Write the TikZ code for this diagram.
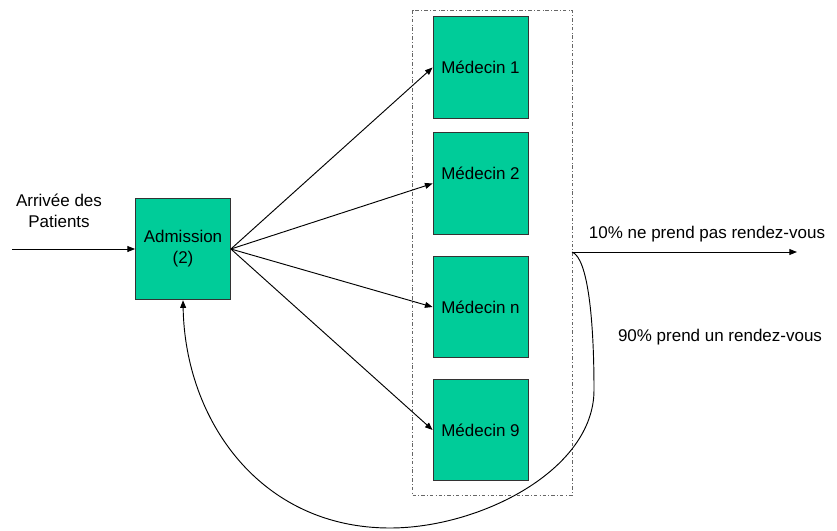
\documentclass[tikz,border=0pt]{standalone}
\usepackage{fontspec}
\setmainfont{Liberation Sans}
\usetikzlibrary{positioning,arrows.meta}
\definecolor{vert}{RGB}{0,204,153}

\begin{document}
\begin{tikzpicture}[
      x=0.03cm, y=-0.03cm,
      font=\fontsize{14.5}{18}\selectfont,
      boite/.style={
        draw=black!80,
        fill=vert,
        line width=0.7pt,
        minimum width=2.85cm,
        minimum height=3.05cm,
        inner sep=0pt
      },
      cadre/.style={
        draw=black!60,
        dash dot,
        line width=0.6pt
      },
      arr/.style={
        ->,
        >={Triangle[length=6.5pt,width=5pt]},
        line width=0.8pt
      }
    ]
    \useasboundingbox (0,0) rectangle (837,531);

    \node[boite, align=center] (adm) at (183,249) {Admission\\(2)} ;
    \node[boite] (m1) at (480.5,67.5)  {Médecin 1} ;
    \node[boite, text depth=0.6cm] (m2) at (480.5,183.5) {Médecin 2} ;
    \node[boite] (mn) at (480.5,307)   {Médecin n} ;
    \node[boite] (m9) at (480.5,430)   {Médecin 9} ;

    \draw[cadre] (412,10) rectangle (572,495) ;

    \node[align=center] (arrivee) at (59,211) {Arrivée des\\Patients} ;
    \node (dix) at (707,234) {10\% ne prend pas rendez-vous} ;
    \node (nonante) at (720,337) {90\% prend un rendez-vous} ;

    \coordinate (debut) at (12,249) ;
    \coordinate (sortie) at (572,252) ;
    \coordinate (fin) at (797,252) ;

    \draw[arr] (debut) -- (adm.west) ;
    \draw[arr] (adm.east) -- (m1.west) ;
    \draw[arr] (adm.east) -- (m2.west) ;
    \draw[arr] (adm.east) -- (mn.west) ;
    \draw[arr] (adm.east) -- (m9.west) ;

    \draw[arr] (sortie) -- (fin) ;
    \draw[arr] (sortie) .. controls (588,258) and (594,320) .. (594,390)
      .. controls (594,470) and (480,528) .. (390,528)
      .. controls (260,528) and (185,420) .. (adm.south) ;
  \end{tikzpicture}
\end{document}
